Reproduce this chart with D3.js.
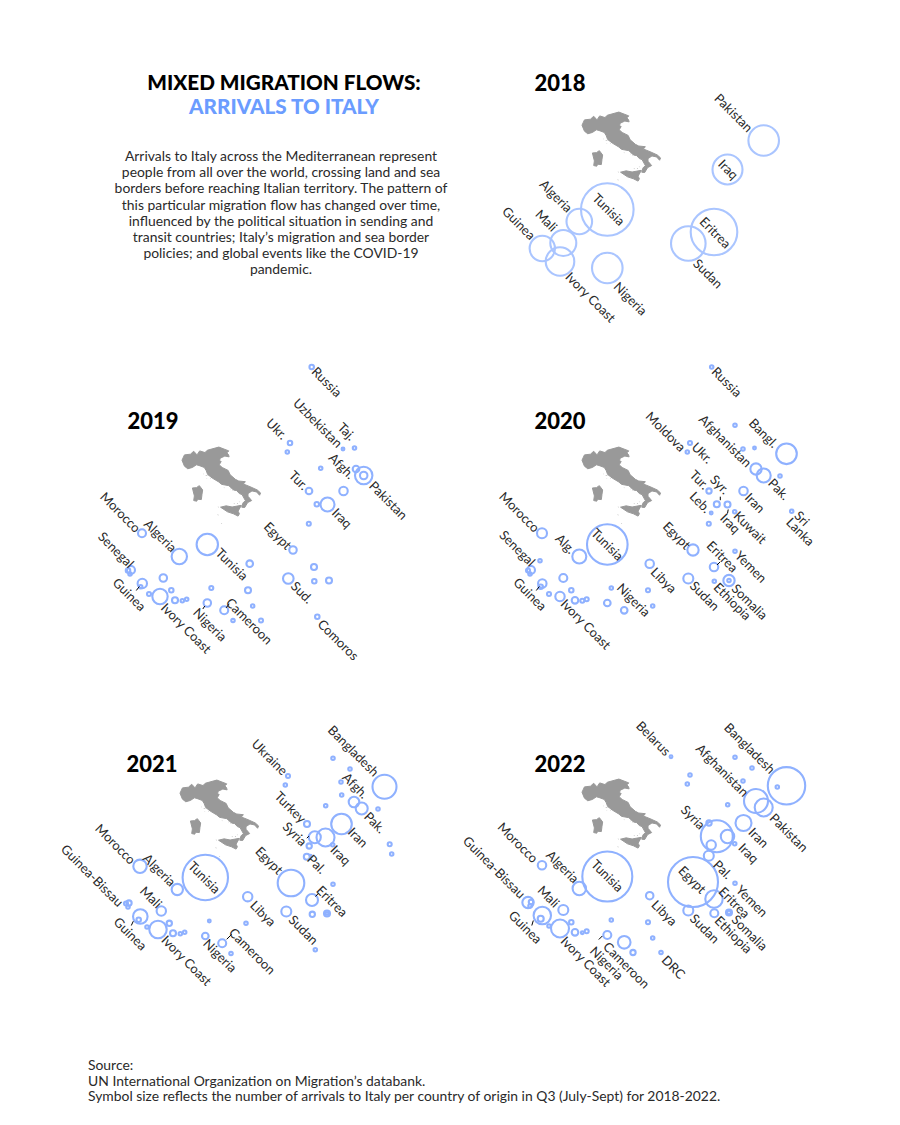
<!DOCTYPE html>
<html><head><meta charset="utf-8">
<script src="https://cdn.jsdelivr.net/npm/d3@7"></script>
<style>html,body{margin:0;background:#fff}svg{display:block}</style>
</head><body><svg id="c" width="900" height="1125"></svg>
<script>
const titleLines = ["MIXED MIGRATION FLOWS:", "ARRIVALS TO ITALY"];
const bodyLines = [
 "Arrivals to Italy across the Mediterranean represent",
 "people from all over the world, crossing land and sea",
 "borders before reaching Italian territory. The pattern of",
 "this particular migration flow has changed over time,",
 "influenced by the political situation in sending and",
 "transit countries; Italy\u2019s migration and sea border",
 "policies; and global events like the COVID-19",
 "pandemic."];
const sourceLines = ["Source:",
 "UN International Organization on Migration\u2019s databank.",
 "Symbol size reflects the number of arrivals to Italy per country of origin in Q3 (July-Sept) for 2018-2022."];

// Italy outline, lon/lat
const italyMainland = [[6.63,45.1],[7.0,45.9],[7.9,46.0],[8.4,46.45],[8.9,45.9],[9.3,46.5],[10.1,46.25],[10.45,46.6],[12.2,47.08],[13.7,46.5],[13.4,46.2],[13.65,45.95],[13.75,45.6],[13.1,45.72],[12.4,45.4],[12.3,45.0],[12.55,44.9],[12.25,44.4],[12.7,44.0],[13.6,43.55],[13.9,42.9],[14.7,42.2],[15.2,41.95],[16.2,41.85],[15.9,41.5],[16.9,41.1],[18.0,40.6],[18.5,40.15],[18.35,39.8],[17.9,40.3],[17.2,40.45],[16.6,40.05],[16.6,39.65],[17.15,39.0],[16.55,38.7],[16.1,37.95],[15.65,38.0],[15.85,38.65],[16.2,39.0],[15.7,39.9],[15.3,40.05],[14.9,40.5],[14.4,40.6],[14.2,40.8],[13.7,41.25],[12.6,41.45],[12.2,41.8],[11.2,42.4],[10.5,42.95],[10.3,43.5],[10.0,44.0],[9.2,44.3],[8.8,44.4],[8.2,44.0],[7.5,43.8],[7.0,44.2],[6.9,44.6]];
const italySicily = [[12.45,38.0],[13.3,38.2],[14.2,38.03],[15.6,38.28],[15.1,37.4],[15.3,37.0],[15.1,36.65],[14.4,37.0],[13.5,37.3],[12.6,37.6]];
const italySardinia = [[8.2,40.9],[8.8,40.95],[9.25,41.25],[9.75,40.6],[9.65,39.95],[9.55,39.15],[9.0,39.2],[8.85,38.9],[8.4,39.0],[8.5,39.7],[8.4,40.4]];
const italyIslets = [[[10.1,42.85],[10.45,42.85],[10.45,42.7],[10.1,42.7]],[[9.82,43.05],[9.95,43.05],[9.95,42.95],[9.82,42.95]],[[10.85,42.42],[11.0,42.42],[11.0,42.28],[10.85,42.28]],[[10.3,42.4],[10.42,42.4],[10.42,42.28],[10.3,42.28]],[[12.9,40.98],[13.05,40.98],[13.05,40.85],[12.9,40.85]],[[13.85,40.8],[14.0,40.8],[14.0,40.66],[13.85,40.66]],[[14.2,40.6],[14.32,40.6],[14.32,40.48],[14.2,40.48]],[[14.9,38.62],[15.08,38.62],[15.08,38.45],[14.9,38.45]],[[14.4,38.58],[14.58,38.58],[14.58,38.43],[14.4,38.43]],[[15.2,38.85],[15.33,38.85],[15.33,38.72],[15.2,38.72]],[[12.0,38.08],[12.18,38.08],[12.18,37.93],[12.0,37.93]],[[12.5,35.58],[12.68,35.58],[12.68,35.42],[12.5,35.42]],[[11.95,36.88],[12.12,36.88],[12.12,36.72],[11.95,36.72]]];

// Panel order and where Italy's top-left sits
const years = ["2018","2019","2020","2021","2022"];
const panelX = [582,182,582,180,582];
const panelY = [112,447,447,780,779];
const yearLabelX = [560,153,560,152,560];
const yearLabelY = [91,429,429,772,772];

// Country locations in the chart's map units (Italy's corner = 0,0)
const locationNames = ["Russia","Belarus","Ukraine","Moldova","Kazakhstan","Kyrgyzstan","Uzbekistan","Tajikistan","Nepal","Georgia","Azerbaijan","Turkmenistan","Afghanistan","Pakistan","PakistanB","Bangladesh","India","SriLanka","Maldives","Iran","Turkey","Syria","Iraq","Lebanon","Jordan","Kuwait","Palestine","Egypt","Yemen","Eritrea","Ethiopia","Somalia","SomaliaB","Sudan","Comoros","Libya","Chad","CAR","DRC","Gabon","Cameroon","Nigeria","Niger","Tunisia","Algeria","Morocco","Mauritania","Senegal","GuineaBissau","Gambia","Guinea","SierraLeone","Liberia","IvoryCoast","Mali","BurkinaFaso","Ghana","Togo","Benin"];
const locationX = [129.7,89,108,105.3,153,170,161,172.5,195.3,138.7,145.7,161.7,174,181.7,181.7,204.5,198,209.7,211.7,161.5,127,134.8,145.5,129.2,130.7,152.7,126.8,111,153,132,132.3,147,147,106.3,135.3,67.7,66,70.7,79,51,42.2,25.3,29.3,25.3,-2.7,-40,-42,-51,-54,-52,-39.7,-41.3,-33,-22,-18.7,-10.7,-7,0.3,4.7];
const locationY = [-80,-22.3,-4,5,-21.7,-11,2,1,8,21.3,25.8,15,22,28.5,28.5,6.8,29,64.3,74,44,44,57.2,57.5,66,75.7,64.7,76.8,103,104.3,120,134.3,133.5,133.5,131.5,169.7,116.7,143.3,159,173.5,173.5,163.3,156,141,97.5,109.5,86.3,113.7,123,123.5,127,136.5,139.7,147,149.5,131,143.3,153.3,153.7,152.3];

// Relative arrivals per country, by year
const names2018 = ["Pakistan","Iraq","Tunisia","Algeria","Mali","Guinea","IvoryCoast","Nigeria","Sudan","Eritrea"];
const values2018 = [234,225,692,164,169,161,204,234,299,543];
const names2019 = ["Russia","Ukraine","Moldova","Uzbekistan","Tajikistan","Georgia","Afghanistan","Pakistan","PakistanB","Iran","Turkey","Syria","Iraq","Palestine","Egypt","Eritrea","Ethiopia","Somalia","Sudan","Comoros","Libya","Chad","CAR","DRC","Gabon","Cameroon","Nigeria","Niger","Tunisia","Algeria","Morocco","Senegal","GuineaBissau","Gambia","Guinea","SierraLeone","Mali","BurkinaFaso","Liberia","IvoryCoast","Ghana","Togo","Benin"];
const values2019 = [5,5,3,2,3,3,11,76,14,18,11,5,49,4,14,9,5,9,28,5,11,9,3,4,3,16,14,4,114,59,16,16,5,3,22,3,14,5,4,59,9,3,3];
const names2020 = ["Russia","Ukraine","Moldova","Kazakhstan","Uzbekistan","Tajikistan","Afghanistan","Pakistan","Bangladesh","India","SriLanka","Iran","Turkey","Syria","Iraq","Lebanon","Kuwait","Palestine","Egypt","Yemen","Eritrea","Ethiopia","Somalia","SomaliaB","Sudan","Libya","Chad","CAR","Nigeria","Cameroon","Niger","Tunisia","Algeria","Morocco","Mauritania","Senegal","GuineaBissau","Gambia","Guinea","SierraLeone","Liberia","IvoryCoast","Mali","BurkinaFaso","Ghana","Togo","Benin"];
const values2020 = [3,4,3,3,3,2,32,49,106,3,3,18,7,9,9,2,3,4,32,3,18,3,32,3,25,18,4,3,11,11,3,412,49,25,3,16,4,3,18,5,4,22,16,5,11,4,4];
const names2021 = ["Ukraine","Moldova","Kazakhstan","Kyrgyzstan","Uzbekistan","Turkmenistan","Azerbaijan","Afghanistan","Pakistan","Bangladesh","India","SriLanka","Maldives","Iran","Turkey","Syria","Iraq","Lebanon","Kuwait","Palestine","Jordan","Egypt","Yemen","Eritrea","Ethiopia","Somalia","SomaliaB","Sudan","Comoros","Libya","Chad","Nigeria","Cameroon","Gabon","Niger","Tunisia","Algeria","Morocco","Senegal","GuineaBissau","Gambia","Guinea","SierraLeone","Liberia","IvoryCoast","Mali","BurkinaFaso","Ghana","Togo","Benin"];
const values2021 = [4,3,3,3,3,3,3,28,36,144,3,4,3,106,9,36,81,7,3,9,1,177,3,36,7,9,2,25,3,22,3,11,16,3,2,515,32,45,7,4,3,53,5,3,76,22,7,9,3,3];
const names2022 = ["Belarus","Ukraine","Moldova","Kazakhstan","Kyrgyzstan","Uzbekistan","Nepal","Azerbaijan","Afghanistan","Pakistan","Bangladesh","Iran","Turkey","Syria","Iraq","Lebanon","Kuwait","Palestine","Egypt","Yemen","Eritrea","Ethiopia","Somalia","SomaliaB","Sudan","Libya","Chad","CAR","DRC","Niger","Nigeria","Cameroon","Gabon","Tunisia","Algeria","Morocco","GuineaBissau","Senegal","Gambia","Guinea","SierraLeone","Liberia","IvoryCoast","Mali","BurkinaFaso","Ghana","Togo","Benin"];
const values2022 = [2,3,3,3,3,3,3,3,144,81,350,64,7,256,45,22,3,25,625,3,76,16,9,3,25,14,4,3,3,3,16,40,7,625,45,18,32,5,3,76,9,3,81,25,5,11,2,4];
const namesByYear = [names2018,names2019,names2020,names2021,names2022];
const valuesByYear = [values2018,values2019,values2020,values2021,values2022];

// Label placement: country, text, anchor, dx, dy from the point
const labels2018 = [["Pakistan","Pakistan","end",-13.3,-10.7],["Iraq","Iraq","middle",0.7,0],["Tunisia","Tunisia","middle",1.3,0],["Algeria","Algeria","end",-9.3,-11.3],["Mali","Mali","end",-8.3,-13.7],["Guinea","Guinea","end",-9.3,-11],["IvoryCoast","Ivory Coast","start",7.7,13],["Nigeria","Nigeria","start",8.7,16.3],["Sudan","Sudan","start",7.3,17.7],["Eritrea","Eritrea","middle",1.3,0.7]];
const labels2019 = [["Russia","Russia","start",2.3,2.3],["Uzbekistan","Uzbekistan","end",-3,-3.7],["Tajikistan","Taj.","end",-1.3,-9.7],["Ukraine","Ukr.","end",-5,-5.7],["Afghanistan","Afgh.","end",-3.7,7.7],["Pakistan","Pakistan","start",7.7,8],["Turkey","Tur.","end",-3,-3.3],["Iraq","Iraq","start",6.7,6],["Egypt","Egypt","end",-3.7,-2.7],["Sudan","Sud.","start",5,5.3],["Comoros","Comoros","start",2.7,5],["Tunisia","Tunisia","start",10.7,6],["Algeria","Algeria","end",-5,-6.7],["Morocco","Morocco","end",-3.7,-3],["Senegal","Senegal","end",0.7,-4.3],["Guinea","Guinea","middle",-13,11],["IvoryCoast","Ivory Coast","start",3.3,9],["Nigeria","Nigeria","start",-11.7,7.3],["Cameroon","Cameroon","start",4,-10]];
const labels2020 = [["Russia","Russia","start",2.3,2.3],["Moldova","Moldova","end",-4,-2.7],["Ukraine","Ukr.","start",4,1.7],["Afghanistan","Afghanistan","end",-6.7,-4],["Bangladesh","Bangl.","end",-10.7,-8.3],["Pakistan","Pak.","start",6.7,5.3],["SriLanka","Sri","start",5,2],["SriLanka","Lanka","start",-3.3,8.7],["Iran","Iran","start",3.7,4.3],["Turkey","Tur.","end",-2.3,-3.7],["Syria","Syr.","middle",3,-19.7],["Lebanon","Leb.","end",-2.7,-2.3],["Iraq","Iraq","start",-5,11.3],["Kuwait","Kuwait","start",1.3,1.7],["Morocco","Morocco","end",-4.7,-3.3],["Algeria","Alg.","end",-6.3,-5],["Tunisia","Tunisia","middle",0,0],["Senegal","Senegal","end",2,-6],["Guinea","Guinea","middle",-12.3,10.7],["IvoryCoast","Ivory Coast","start",3,5],["Nigeria","Nigeria","middle",26.3,-3],["Libya","Libya","start",3.3,6],["Egypt","Egypt","end",-4.7,-3],["Eritrea","Eritrea","middle",8.3,-10.3],["Yemen","Yemen","start",2.3,2],["Somalia","Somalia","start",5,5.7],["Ethiopia","Ethiopia","start",1.7,3.7],["Sudan","Sudan","start",4,5]];
const labels2021 = [["Ukraine","Ukraine","end",-2.7,-3],["Bangladesh","Bangladesh","end",-8,-12.7],["Afghanistan","Afgh.","end",12,-5.7],["Pakistan","Pak.","start",4.7,5.7],["Turkey","Turkey","end",-3.3,-3.3],["Syria","Syria","end",-10.3,6.7],["Iran","Iran","start",8.7,5.7],["Iraq","Iraq","start",7.3,10],["Palestine","Pal.","start",2.7,0.3],["Morocco","Morocco","end",-6.7,-4.3],["Algeria","Algeria","end",-4,-5.3],["Tunisia","Tunisia","middle",-1,0],["Egypt","Egypt","end",-10.3,-11],["Eritrea","Eritrea","start",6.7,-12],["Sudan","Sudan","start",4.7,6],["Libya","Libya","start",4.7,6.3],["Cameroon","Cameroon","start",9,-13],["Nigeria","Nigeria","start",0.3,5.3],["IvoryCoast","Ivory Coast","start",5.7,8.3],["Guinea","Guinea","middle",-10,17.3],["GuineaBissau","Guinea-Bissau","end",-5,1],["Mali","Mali","end",-1.7,-5]];
const labels2022 = [["Belarus","Belarus","end",-2.7,-3.3],["Bangladesh","Bangladesh","end",-13.7,-14.3],["Afghanistan","Afghanistan","end",-9.7,-6.7],["Pakistan","Pakistan","start",8.3,8.3],["Iran","Iran","start",7.3,7],["Syria","Syria","end",-14,-9],["Iraq","Iraq","start",13.3,9],["Palestine","Pal.","start",6.7,6.7],["Yemen","Yemen","start",3.3,4.3],["Eritrea","Eritrea","start",7,-9.7],["Somalia","Somalia","start",5,4.7],["Ethiopia","Ethiopia","start",2.7,5],["Egypt","Egypt","middle",-0.7,-2.3],["Sudan","Sudan","start",4,5.7],["Libya","Libya","start",4,6.7],["DRC","DRC","start",3,5.3],["Cameroon","Cameroon","start",-18.7,2],["Nigeria","Nigeria","start",-15,13.7],["Tunisia","Tunisia","middle",0,-0.7],["Algeria","Algeria","end",-2.7,-7.7],["Morocco","Morocco","end",-6.3,-4.7],["GuineaBissau","Guinea-Bissau","end",-5,-6.3],["Mali","Mali","end",-6,-4.7],["Guinea","Guinea","middle",-17,11.7],["IvoryCoast","Ivory Coast","start",3,10.3]];
const labelsByYear = [labels2018,labels2019,labels2020,labels2021,labels2022];

// Leader ticks: country, from dx,dy to dx,dy relative to the point
const leaders2019 = [["Guinea",-3,3,-6,7],["Nigeria",-2.5,3,-4.5,6],["Cameroon",5,-6.5,2,-2.5]];
const leaders2020 = [["Guinea",-3,3,-6,7],["Syria",3.5,-7.5,3.5,-4],["Iraq",0.7,5,0,9],["Eritrea",6,-5,3,-2]];
const leaders2021 = [["Guinea",-7,4.7,-9,9],["Syria",-6,-1,-8,1],["Eritrea",6.7,-7,3.5,-3.5],["Cameroon",9.5,-9,4.5,-4]];
const leaders2022 = [["Guinea",-9,5,-10.5,10],["Nigeria",-5,1,-8.5,4.5]];
const leadersByYear = [[],leaders2019,leaders2020,leaders2021,leaders2022];

const strokeColours = ["#aac5ff","#8fb1ff","#8fb1ff","#8fb1ff","#8fb1ff"];
const FONT = "Lato, 'Noto Sans', sans-serif";
const svg = d3.select("#c");

svg.selectAll("text.title").data(titleLines).join("text").attr("class","title")
  .attr("x",284).attr("y",(d,i)=>89.5+i*24).attr("text-anchor","middle")
  .attr("font-family",FONT).attr("font-weight",900).attr("font-size",20.7)
  .attr("fill",(d,i)=>i?"#6b9cff":"#000").text(d=>d);
svg.selectAll("text.body").data(bodyLines).join("text").attr("class","body")
  .attr("x",281).attr("y",(d,i)=>161+i*16.2).attr("text-anchor","middle")
  .attr("font-family",FONT).attr("font-size",13.9).attr("fill","#2a2a2a").text(d=>d);
svg.selectAll("text.src").data(sourceLines).join("text").attr("class","src")
  .attr("x",88).attr("y",(d,i)=>1070+i*15.7)
  .attr("font-family",FONT).attr("font-size",13.9).attr("fill","#2a2a2a").text(d=>d);

const locX = new Map(locationNames.map((n,i)=>[n,locationX[i]]));
const locY = new Map(locationNames.map((n,i)=>[n,locationY[i]]));
const rScale = d3.scaleSqrt().domain([0,625]).range([0,25]);
const italyGeo = {type:"MultiPolygon",coordinates:[[italyMainland],[italySicily],[italySardinia]]};
const isletGeo = {type:"MultiPolygon",coordinates:italyIslets.map(p=>[p])};

years.forEach((yr,i)=>{
  const ox=panelX[i], oy=panelY[i];
  const x=d3.scaleLinear().domain([0,100]).range([ox,ox+100]);
  const y=d3.scaleLinear().domain([0,100]).range([oy,oy+100]);
  const g=svg.append("g").attr("class","panel-"+yr);
  g.append("text").attr("x",yearLabelX[i]).attr("y",yearLabelY[i]).attr("text-anchor","middle")
    .attr("font-family",FONT).attr("font-weight",900).attr("font-size",22).attr("fill","#000").text(yr);
  const proj=d3.geoIdentity().reflectY(true).scale(6.62).translate([ox-6.63*6.62,oy+47.09*6.62]);
  const geo=d3.geoPath(proj);
  g.append("path").datum(italyGeo).attr("d",geo).attr("fill","#999").attr("stroke","#999").attr("stroke-width",1).attr("stroke-linejoin","round");
  g.append("path").datum(isletGeo).attr("d",geo).attr("fill","#b5b5b5");
  const pts=namesByYear[i].map((n,j)=>({name:n,v:valuesByYear[i][j]}));
  g.selectAll("circle").data(pts).join("circle")
    .attr("cx",d=>x(locX.get(d.name))).attr("cy",d=>y(locY.get(d.name)))
    .attr("r",d=>rScale(d.v)).attr("fill","none").attr("stroke",strokeColours[i]).attr("stroke-width",2.1);
  g.selectAll("line").data(leadersByYear[i]).join("line")
    .attr("x1",d=>x(locX.get(d[0]))+d[1]).attr("y1",d=>y(locY.get(d[0]))+d[2])
    .attr("x2",d=>x(locX.get(d[0]))+d[3]).attr("y2",d=>y(locY.get(d[0]))+d[4])
    .attr("stroke","#000").attr("stroke-width",1);
  g.selectAll("text.lab").data(labelsByYear[i]).join("text").attr("class","lab")
    .attr("transform",d=>`translate(${x(locX.get(d[0]))+d[3]},${y(locY.get(d[0]))+d[4]}) rotate(45)`)
    .attr("text-anchor",d=>d[2]).attr("dy","0.35em")
    .attr("font-family",FONT).attr("font-size",13).attr("fill","#2a2a2a").text(d=>d[1]);
});
</script></body></html>
